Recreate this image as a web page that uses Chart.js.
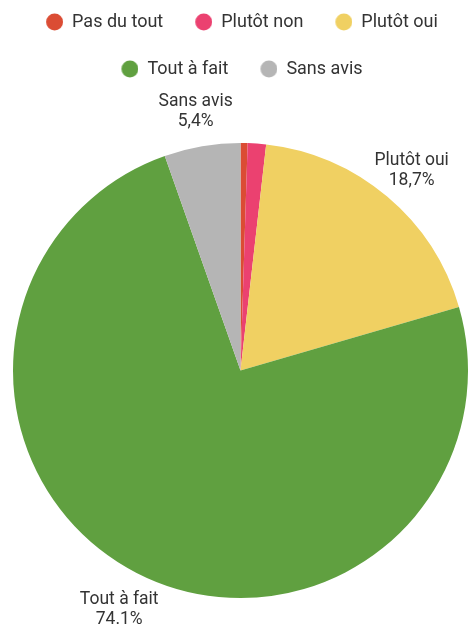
<!DOCTYPE html>
<html>
<head>
<meta charset="utf-8">
<script src="https://cdn.jsdelivr.net/npm/chart.js@4"></script>
<style>
  html, body { margin: 0; padding: 0; background: #ffffff; }
  #wrap { width: 468px; height: 626px; position: relative; }
</style>
</head>
<body>
<div id="wrap"><canvas id="c" width="468" height="626"></canvas></div>
<script>
const categories = ["Pas du tout", "Plutôt non", "Plutôt oui", "Tout à fait", "Sans avis"];
const values = [0.5, 1.3, 18.7, 74.1, 5.4];
const valueLabels = ["0,5%", "1,3%", "18,7%", "74.1%", "5,4%"];
const colors = ["#DB4C34", "#EB4170", "#F0D062", "#60A040", "#B5B5B5"];

const FONT = "Roboto, 'DejaVu Sans', sans-serif";

// legend marker: a circle drawn at the right side of a slightly wider canvas
const MARK_W = 20, MARK_H = 18;
function makeMarker(color) {
  const cv = document.createElement('canvas');
  cv.width = MARK_W; cv.height = MARK_H;
  const c = cv.getContext('2d');
  c.fillStyle = color;
  c.beginPath();
  c.arc(MARK_W - 8.5, MARK_H / 2, 8.5, 0, Math.PI * 2);
  c.fill();
  return cv;
}
const markers = colors.map(makeMarker);

const outerLabels = {
  id: 'outerLabels',
  afterDatasetsDraw(chart) {
    const ctx = chart.ctx;
    const meta = chart.getDatasetMeta(0);
    ctx.save();
    ctx.font = "17.5px " + FONT;
    ctx.fillStyle = "#333333";
    ctx.textAlign = "center";
    ctx.textBaseline = "middle";
    meta.data.forEach((arc, i) => {
      if (values[i] < 5) return;
      const p = arc.getProps(['x', 'y', 'startAngle', 'endAngle', 'outerRadius'], true);
      const a = (p.startAngle + p.endAngle) / 2;
      const d = p.outerRadius + 38;
      const x = p.x + Math.cos(a) * d;
      const y = p.y + Math.sin(a) * d + 3;
      ctx.fillText(categories[i], x, y - 10);
      ctx.fillText(valueLabels[i], x, y + 10);
    });
    ctx.restore();
  }
};

new Chart(document.getElementById('c'), {
  type: 'pie',
  data: {
    labels: categories,
    datasets: [{
      data: values,
      backgroundColor: colors,
      borderWidth: 0
    }]
  },
  options: {
    responsive: false,
    animation: false,
    layout: { padding: { top: -16, left: 13, right: 0, bottom: 0 } },
    plugins: {
      legend: {
        position: 'top',
        labels: {
          usePointStyle: true,
          pointStyleWidth: MARK_W,
          boxHeight: 12.7,
          padding: 29,
          color: '#333333',
          font: { size: 18, family: FONT },
          generateLabels(chart) {
            const items = Chart.overrides.pie.plugins.legend.labels.generateLabels(chart);
            items.forEach((it, i) => { it.pointStyle = markers[i]; });
            return items;
          }
        }
      },
      title: {
        display: true,
        text: ' ',
        position: 'top',
        weight: 500,
        font: { size: 1, lineHeight: 1 },
        padding: { top: 0, bottom: 26 }
      },
      tooltip: { enabled: false }
    }
  },
  plugins: [outerLabels]
});
</script>
</body>
</html>
